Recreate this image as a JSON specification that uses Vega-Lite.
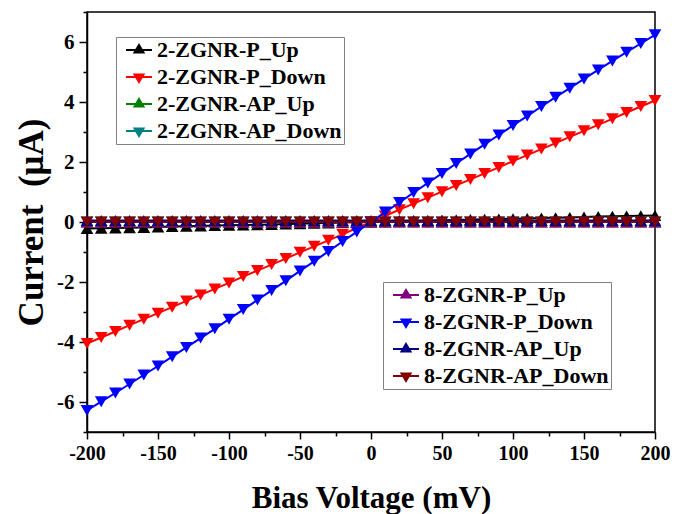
{
  "$schema": "https://vega.github.io/schema/vega-lite/v6.json",
  "width": 568,
  "height": 420,
  "autosize": "none",
  "padding": {"left": 87, "top": 12, "right": 19, "bottom": 82},
  "background": "white",
  "config": {"view": {"stroke": "black", "strokeWidth": 1.5}, "font": "Liberation Serif"},
  "data": {"values": [
    {"v": -200, "2-ZGNR-P_Up": -0.22, "2-ZGNR-P_Down": -4.05, "2-ZGNR-AP_Up": 0, "2-ZGNR-AP_Down": 0, "8-ZGNR-P_Up": 0, "8-ZGNR-P_Down": -6.28, "8-ZGNR-AP_Up": 0.05, "8-ZGNR-AP_Down": 0},
    {"v": -190, "2-ZGNR-P_Up": -0.21, "2-ZGNR-P_Down": -3.85, "2-ZGNR-AP_Up": 0, "2-ZGNR-AP_Down": 0, "8-ZGNR-P_Up": 0, "8-ZGNR-P_Down": -5.99, "8-ZGNR-AP_Up": 0.05, "8-ZGNR-AP_Down": 0},
    {"v": -180, "2-ZGNR-P_Up": -0.20, "2-ZGNR-P_Down": -3.65, "2-ZGNR-AP_Up": 0, "2-ZGNR-AP_Down": 0, "8-ZGNR-P_Up": 0, "8-ZGNR-P_Down": -5.70, "8-ZGNR-AP_Up": 0.05, "8-ZGNR-AP_Down": 0},
    {"v": -170, "2-ZGNR-P_Up": -0.19, "2-ZGNR-P_Down": -3.44, "2-ZGNR-AP_Up": 0, "2-ZGNR-AP_Down": 0, "8-ZGNR-P_Up": 0, "8-ZGNR-P_Down": -5.40, "8-ZGNR-AP_Up": 0.05, "8-ZGNR-AP_Down": 0},
    {"v": -160, "2-ZGNR-P_Up": -0.18, "2-ZGNR-P_Down": -3.24, "2-ZGNR-AP_Up": 0, "2-ZGNR-AP_Down": 0, "8-ZGNR-P_Up": 0, "8-ZGNR-P_Down": -5.10, "8-ZGNR-AP_Up": 0.05, "8-ZGNR-AP_Down": 0},
    {"v": -150, "2-ZGNR-P_Up": -0.17, "2-ZGNR-P_Down": -3.04, "2-ZGNR-AP_Up": 0, "2-ZGNR-AP_Down": 0, "8-ZGNR-P_Up": 0, "8-ZGNR-P_Down": -4.80, "8-ZGNR-AP_Up": 0.05, "8-ZGNR-AP_Down": 0},
    {"v": -140, "2-ZGNR-P_Up": -0.15, "2-ZGNR-P_Down": -2.84, "2-ZGNR-AP_Up": 0, "2-ZGNR-AP_Down": 0, "8-ZGNR-P_Up": 0, "8-ZGNR-P_Down": -4.49, "8-ZGNR-AP_Up": 0.05, "8-ZGNR-AP_Down": 0},
    {"v": -130, "2-ZGNR-P_Up": -0.14, "2-ZGNR-P_Down": -2.63, "2-ZGNR-AP_Up": 0, "2-ZGNR-AP_Down": 0, "8-ZGNR-P_Up": 0, "8-ZGNR-P_Down": -4.18, "8-ZGNR-AP_Up": 0.05, "8-ZGNR-AP_Down": 0},
    {"v": -120, "2-ZGNR-P_Up": -0.13, "2-ZGNR-P_Down": -2.43, "2-ZGNR-AP_Up": 0, "2-ZGNR-AP_Down": 0, "8-ZGNR-P_Up": 0, "8-ZGNR-P_Down": -3.87, "8-ZGNR-AP_Up": 0.05, "8-ZGNR-AP_Down": 0},
    {"v": -110, "2-ZGNR-P_Up": -0.12, "2-ZGNR-P_Down": -2.23, "2-ZGNR-AP_Up": 0, "2-ZGNR-AP_Down": 0, "8-ZGNR-P_Up": 0, "8-ZGNR-P_Down": -3.56, "8-ZGNR-AP_Up": 0.05, "8-ZGNR-AP_Down": 0},
    {"v": -100, "2-ZGNR-P_Up": -0.11, "2-ZGNR-P_Down": -2.03, "2-ZGNR-AP_Up": 0, "2-ZGNR-AP_Down": 0, "8-ZGNR-P_Up": 0, "8-ZGNR-P_Down": -3.24, "8-ZGNR-AP_Up": 0.05, "8-ZGNR-AP_Down": 0},
    {"v": -90, "2-ZGNR-P_Up": -0.10, "2-ZGNR-P_Down": -1.82, "2-ZGNR-AP_Up": 0, "2-ZGNR-AP_Down": 0, "8-ZGNR-P_Up": 0, "8-ZGNR-P_Down": -2.92, "8-ZGNR-AP_Up": 0.05, "8-ZGNR-AP_Down": 0},
    {"v": -80, "2-ZGNR-P_Up": -0.09, "2-ZGNR-P_Down": -1.62, "2-ZGNR-AP_Up": 0, "2-ZGNR-AP_Down": 0, "8-ZGNR-P_Up": 0, "8-ZGNR-P_Down": -2.60, "8-ZGNR-AP_Up": 0.05, "8-ZGNR-AP_Down": 0},
    {"v": -70, "2-ZGNR-P_Up": -0.08, "2-ZGNR-P_Down": -1.42, "2-ZGNR-AP_Up": 0, "2-ZGNR-AP_Down": 0, "8-ZGNR-P_Up": 0, "8-ZGNR-P_Down": -2.28, "8-ZGNR-AP_Up": 0.05, "8-ZGNR-AP_Down": 0},
    {"v": -60, "2-ZGNR-P_Up": -0.07, "2-ZGNR-P_Down": -1.22, "2-ZGNR-AP_Up": 0, "2-ZGNR-AP_Down": 0, "8-ZGNR-P_Up": 0, "8-ZGNR-P_Down": -1.96, "8-ZGNR-AP_Up": 0.05, "8-ZGNR-AP_Down": 0},
    {"v": -50, "2-ZGNR-P_Up": -0.06, "2-ZGNR-P_Down": -1.01, "2-ZGNR-AP_Up": 0, "2-ZGNR-AP_Down": 0, "8-ZGNR-P_Up": 0, "8-ZGNR-P_Down": -1.63, "8-ZGNR-AP_Up": 0.05, "8-ZGNR-AP_Down": 0},
    {"v": -40, "2-ZGNR-P_Up": -0.04, "2-ZGNR-P_Down": -0.81, "2-ZGNR-AP_Up": 0, "2-ZGNR-AP_Down": 0, "8-ZGNR-P_Up": 0, "8-ZGNR-P_Down": -1.31, "8-ZGNR-AP_Up": 0.05, "8-ZGNR-AP_Down": 0},
    {"v": -30, "2-ZGNR-P_Up": -0.03, "2-ZGNR-P_Down": -0.61, "2-ZGNR-AP_Up": 0, "2-ZGNR-AP_Down": 0, "8-ZGNR-P_Up": 0, "8-ZGNR-P_Down": -0.98, "8-ZGNR-AP_Up": 0.05, "8-ZGNR-AP_Down": 0},
    {"v": -20, "2-ZGNR-P_Up": -0.02, "2-ZGNR-P_Down": -0.41, "2-ZGNR-AP_Up": 0, "2-ZGNR-AP_Down": 0, "8-ZGNR-P_Up": 0, "8-ZGNR-P_Down": -0.65, "8-ZGNR-AP_Up": 0.05, "8-ZGNR-AP_Down": 0},
    {"v": -10, "2-ZGNR-P_Up": -0.01, "2-ZGNR-P_Down": -0.20, "2-ZGNR-AP_Up": 0, "2-ZGNR-AP_Down": 0, "8-ZGNR-P_Up": 0, "8-ZGNR-P_Down": -0.33, "8-ZGNR-AP_Up": 0.05, "8-ZGNR-AP_Down": 0},
    {"v": 0, "2-ZGNR-P_Up": 0, "2-ZGNR-P_Down": 0, "2-ZGNR-AP_Up": 0, "2-ZGNR-AP_Down": 0, "8-ZGNR-P_Up": 0, "8-ZGNR-P_Down": 0, "8-ZGNR-AP_Up": 0.05, "8-ZGNR-AP_Down": 0},
    {"v": 10, "2-ZGNR-P_Up": 0.01, "2-ZGNR-P_Down": 0.20, "2-ZGNR-AP_Up": 0, "2-ZGNR-AP_Down": 0, "8-ZGNR-P_Up": 0, "8-ZGNR-P_Down": 0.33, "8-ZGNR-AP_Up": 0.05, "8-ZGNR-AP_Down": 0},
    {"v": 20, "2-ZGNR-P_Up": 0.02, "2-ZGNR-P_Down": 0.41, "2-ZGNR-AP_Up": 0, "2-ZGNR-AP_Down": 0, "8-ZGNR-P_Up": 0, "8-ZGNR-P_Down": 0.65, "8-ZGNR-AP_Up": 0.05, "8-ZGNR-AP_Down": 0},
    {"v": 30, "2-ZGNR-P_Up": 0.03, "2-ZGNR-P_Down": 0.61, "2-ZGNR-AP_Up": 0, "2-ZGNR-AP_Down": 0, "8-ZGNR-P_Up": 0, "8-ZGNR-P_Down": 0.98, "8-ZGNR-AP_Up": 0.05, "8-ZGNR-AP_Down": 0},
    {"v": 40, "2-ZGNR-P_Up": 0.04, "2-ZGNR-P_Down": 0.81, "2-ZGNR-AP_Up": 0, "2-ZGNR-AP_Down": 0, "8-ZGNR-P_Up": 0, "8-ZGNR-P_Down": 1.30, "8-ZGNR-AP_Up": 0.05, "8-ZGNR-AP_Down": 0},
    {"v": 50, "2-ZGNR-P_Up": 0.06, "2-ZGNR-P_Down": 1.01, "2-ZGNR-AP_Up": 0, "2-ZGNR-AP_Down": 0, "8-ZGNR-P_Up": 0, "8-ZGNR-P_Down": 1.62, "8-ZGNR-AP_Up": 0.05, "8-ZGNR-AP_Down": 0},
    {"v": 60, "2-ZGNR-P_Up": 0.07, "2-ZGNR-P_Down": 1.22, "2-ZGNR-AP_Up": 0, "2-ZGNR-AP_Down": 0, "8-ZGNR-P_Up": 0, "8-ZGNR-P_Down": 1.95, "8-ZGNR-AP_Up": 0.05, "8-ZGNR-AP_Down": 0},
    {"v": 70, "2-ZGNR-P_Up": 0.08, "2-ZGNR-P_Down": 1.42, "2-ZGNR-AP_Up": 0, "2-ZGNR-AP_Down": 0, "8-ZGNR-P_Up": 0, "8-ZGNR-P_Down": 2.27, "8-ZGNR-AP_Up": 0.05, "8-ZGNR-AP_Down": 0},
    {"v": 80, "2-ZGNR-P_Up": 0.09, "2-ZGNR-P_Down": 1.62, "2-ZGNR-AP_Up": 0, "2-ZGNR-AP_Down": 0, "8-ZGNR-P_Up": 0, "8-ZGNR-P_Down": 2.59, "8-ZGNR-AP_Up": 0.05, "8-ZGNR-AP_Down": 0},
    {"v": 90, "2-ZGNR-P_Up": 0.10, "2-ZGNR-P_Down": 1.82, "2-ZGNR-AP_Up": 0, "2-ZGNR-AP_Down": 0, "8-ZGNR-P_Up": 0, "8-ZGNR-P_Down": 2.90, "8-ZGNR-AP_Up": 0.05, "8-ZGNR-AP_Down": 0},
    {"v": 100, "2-ZGNR-P_Up": 0.11, "2-ZGNR-P_Down": 2.03, "2-ZGNR-AP_Up": 0, "2-ZGNR-AP_Down": 0, "8-ZGNR-P_Up": 0, "8-ZGNR-P_Down": 3.22, "8-ZGNR-AP_Up": 0.05, "8-ZGNR-AP_Down": 0},
    {"v": 110, "2-ZGNR-P_Up": 0.12, "2-ZGNR-P_Down": 2.23, "2-ZGNR-AP_Up": 0, "2-ZGNR-AP_Down": 0, "8-ZGNR-P_Up": 0, "8-ZGNR-P_Down": 3.53, "8-ZGNR-AP_Up": 0.05, "8-ZGNR-AP_Down": 0},
    {"v": 120, "2-ZGNR-P_Up": 0.13, "2-ZGNR-P_Down": 2.43, "2-ZGNR-AP_Up": 0, "2-ZGNR-AP_Down": 0, "8-ZGNR-P_Up": 0, "8-ZGNR-P_Down": 3.85, "8-ZGNR-AP_Up": 0.05, "8-ZGNR-AP_Down": 0},
    {"v": 130, "2-ZGNR-P_Up": 0.14, "2-ZGNR-P_Down": 2.63, "2-ZGNR-AP_Up": 0, "2-ZGNR-AP_Down": 0, "8-ZGNR-P_Up": 0, "8-ZGNR-P_Down": 4.16, "8-ZGNR-AP_Up": 0.05, "8-ZGNR-AP_Down": 0},
    {"v": 140, "2-ZGNR-P_Up": 0.15, "2-ZGNR-P_Down": 2.84, "2-ZGNR-AP_Up": 0, "2-ZGNR-AP_Down": 0, "8-ZGNR-P_Up": 0, "8-ZGNR-P_Down": 4.46, "8-ZGNR-AP_Up": 0.05, "8-ZGNR-AP_Down": 0},
    {"v": 150, "2-ZGNR-P_Up": 0.17, "2-ZGNR-P_Down": 3.04, "2-ZGNR-AP_Up": 0, "2-ZGNR-AP_Down": 0, "8-ZGNR-P_Up": 0, "8-ZGNR-P_Down": 4.77, "8-ZGNR-AP_Up": 0.05, "8-ZGNR-AP_Down": 0},
    {"v": 160, "2-ZGNR-P_Up": 0.18, "2-ZGNR-P_Down": 3.24, "2-ZGNR-AP_Up": 0, "2-ZGNR-AP_Down": 0, "8-ZGNR-P_Up": 0, "8-ZGNR-P_Down": 5.07, "8-ZGNR-AP_Up": 0.05, "8-ZGNR-AP_Down": 0},
    {"v": 170, "2-ZGNR-P_Up": 0.19, "2-ZGNR-P_Down": 3.44, "2-ZGNR-AP_Up": 0, "2-ZGNR-AP_Down": 0, "8-ZGNR-P_Up": 0, "8-ZGNR-P_Down": 5.37, "8-ZGNR-AP_Up": 0.05, "8-ZGNR-AP_Down": 0},
    {"v": 180, "2-ZGNR-P_Up": 0.20, "2-ZGNR-P_Down": 3.65, "2-ZGNR-AP_Up": 0, "2-ZGNR-AP_Down": 0, "8-ZGNR-P_Up": 0, "8-ZGNR-P_Down": 5.66, "8-ZGNR-AP_Up": 0.05, "8-ZGNR-AP_Down": 0},
    {"v": 190, "2-ZGNR-P_Up": 0.21, "2-ZGNR-P_Down": 3.85, "2-ZGNR-AP_Up": 0, "2-ZGNR-AP_Down": 0, "8-ZGNR-P_Up": 0, "8-ZGNR-P_Down": 5.95, "8-ZGNR-AP_Up": 0.05, "8-ZGNR-AP_Down": 0},
    {"v": 200, "2-ZGNR-P_Up": 0.22, "2-ZGNR-P_Down": 4.05, "2-ZGNR-AP_Up": 0, "2-ZGNR-AP_Down": 0, "8-ZGNR-P_Up": 0, "8-ZGNR-P_Down": 6.24, "8-ZGNR-AP_Up": 0.05, "8-ZGNR-AP_Down": 0}
  ]},
  "transform": [
    {"fold": ["2-ZGNR-P_Up", "2-ZGNR-P_Down", "2-ZGNR-AP_Up", "2-ZGNR-AP_Down", "8-ZGNR-P_Up", "8-ZGNR-P_Down", "8-ZGNR-AP_Up", "8-ZGNR-AP_Down"], "as": ["series", "i"]}
  ],
  "layer": [
    {
      "transform": [{"filter": {"field": "series", "oneOf": ["2-ZGNR-P_Up", "2-ZGNR-P_Down", "2-ZGNR-AP_Up", "2-ZGNR-AP_Down"]}}],
      "encoding": {
        "x": {"field": "v", "type": "quantitative", "scale": {"domain": [-200, 200], "nice": false, "zero": false},
          "axis": {"orient": "bottom", "values": [-200, -150, -100, -50, 0, 50, 100, 150, 200], "grid": false, "labelExpr": "'' + datum.value",
            "labelFont": "Liberation Serif", "labelFontWeight": "bold", "labelFontSize": 20, "labelColor": "black", "labelPadding": 4, "labelFlush": false, "labelOverlap": false,
            "tickColor": "black", "tickSize": 7, "tickWidth": 1.5, "domainColor": "black", "domainWidth": 1.5,
            "title": "Bias Voltage (mV)", "titleFont": "Liberation Serif", "titleFontSize": 31, "titleFontWeight": "bold", "titleColor": "black", "titlePadding": 20}},
        "y": {"field": "i", "type": "quantitative", "scale": {"domain": [-7, 7], "nice": false, "zero": false},
          "axis": {"orient": "left", "values": [-6, -4, -2, 0, 2, 4, 6], "grid": false, "labelExpr": "'' + datum.value",
            "labelFont": "Liberation Serif", "labelFontWeight": "bold", "labelFontSize": 21, "labelColor": "black", "labelPadding": 5, "labelOverlap": false,
            "tickColor": "black", "tickSize": 8, "tickWidth": 1.5, "domainColor": "black", "domainWidth": 1.5,
            "title": "Current\u00a0 (μA)", "titleFont": "Liberation Serif", "titleFontSize": 35, "titleFontWeight": "bold", "titleColor": "black", "titlePadding": 7}}
      },
      "layer": [
        {"mark": {"type": "line", "strokeWidth": 2},
          "encoding": {"stroke": {"field": "series", "type": "nominal",
            "scale": {"domain": ["2-ZGNR-P_Up", "2-ZGNR-P_Down", "2-ZGNR-AP_Up", "2-ZGNR-AP_Down"], "range": ["#000000", "#ff0000", "#008000", "#008080"]}}}},
        {"transform": [{"filter": {"field": "series", "oneOf": ["2-ZGNR-P_Up", "2-ZGNR-AP_Up"]}}],
          "mark": {"type": "point", "filled": true, "size": 160, "opacity": 1, "shape": "triangle-up"},
          "encoding": {"fill": {"field": "series", "type": "nominal",
            "scale": {"domain": ["2-ZGNR-P_Up", "2-ZGNR-P_Down", "2-ZGNR-AP_Up", "2-ZGNR-AP_Down"], "range": ["#000000", "#ff0000", "#008000", "#008080"]}}}},
        {"transform": [{"filter": {"field": "series", "oneOf": ["2-ZGNR-P_Down", "2-ZGNR-AP_Down"]}}],
          "mark": {"type": "point", "filled": true, "size": 160, "opacity": 1, "shape": "triangle-down"},
          "encoding": {"fill": {"field": "series", "type": "nominal",
            "scale": {"domain": ["2-ZGNR-P_Up", "2-ZGNR-P_Down", "2-ZGNR-AP_Up", "2-ZGNR-AP_Down"], "range": ["#000000", "#ff0000", "#008000", "#008080"]}}}},
        {"mark": {"type": "point", "filled": true, "size": 10, "opacity": 0},
          "encoding": {
            "fill": {"field": "series", "type": "nominal",
              "scale": {"domain": ["2-ZGNR-P_Up", "2-ZGNR-P_Down", "2-ZGNR-AP_Up", "2-ZGNR-AP_Down"], "range": ["#000000", "#ff0000", "#008000", "#008080"]},
              "legend": {"orient": "none", "legendX": 29, "legendY": 25, "title": null, "padding": 2, "rowPadding": 5, "strokeColor": "#808080", "fillColor": "white",
                "symbolSize": 400, "symbolOffset": 10, "labelOffset": 7, "labelLimit": 400, "symbolOpacity": 1, "symbolStrokeWidth": 2,
                "labelFont": "Liberation Serif", "labelFontWeight": "bold", "labelFontSize": 22, "labelColor": "black"}},
            "stroke": {"field": "series", "type": "nominal",
              "scale": {"domain": ["2-ZGNR-P_Up", "2-ZGNR-P_Down", "2-ZGNR-AP_Up", "2-ZGNR-AP_Down"], "range": ["#000000", "#ff0000", "#008000", "#008080"]},
              "legend": {"orient": "none", "legendX": 29, "legendY": 25, "title": null, "padding": 2, "rowPadding": 5, "strokeColor": "#808080", "fillColor": "white",
                "symbolSize": 400, "symbolOffset": 10, "labelOffset": 7, "labelLimit": 400, "symbolOpacity": 1, "symbolStrokeWidth": 2,
                "labelFont": "Liberation Serif", "labelFontWeight": "bold", "labelFontSize": 22, "labelColor": "black"}},
            "shape": {"field": "series", "type": "nominal",
              "scale": {"domain": ["2-ZGNR-P_Up", "2-ZGNR-P_Down", "2-ZGNR-AP_Up", "2-ZGNR-AP_Down"],
                "range": ["M-1.3,0H1.3M0,-0.5L0.45,0.25L-0.45,0.25Z", "M-1.3,0H1.3M0,0.5L0.45,-0.25L-0.45,-0.25Z", "M-1.3,0H1.3M0,-0.5L0.45,0.25L-0.45,0.25Z", "M-1.3,0H1.3M0,0.5L0.45,-0.25L-0.45,-0.25Z"]},
              "legend": {"orient": "none", "legendX": 29, "legendY": 25, "title": null, "padding": 2, "rowPadding": 5, "strokeColor": "#808080", "fillColor": "white",
                "symbolSize": 400, "symbolOffset": 10, "labelOffset": 7, "labelLimit": 400, "symbolOpacity": 1, "symbolStrokeWidth": 2,
                "labelFont": "Liberation Serif", "labelFontWeight": "bold", "labelFontSize": 22, "labelColor": "black"}}}}
      ]
    },
    {
      "transform": [{"filter": {"field": "series", "oneOf": ["8-ZGNR-P_Up", "8-ZGNR-P_Down", "8-ZGNR-AP_Up", "8-ZGNR-AP_Down"]}}],
      "encoding": {
        "x": {"field": "v", "type": "quantitative", "scale": {"domain": [-200, 200], "nice": false, "zero": false},
          "axis": {"orient": "bottom", "values": [-175, -125, -75, -25, 25, 75, 125, 175], "labels": false, "domain": false, "grid": false,
            "tickColor": "black", "tickSize": 4, "tickWidth": 1.5, "title": null}},
        "y": {"field": "i", "type": "quantitative", "scale": {"domain": [-7, 7], "nice": false, "zero": false},
          "axis": {"orient": "left", "values": [-7, -5, -3, -1, 1, 3, 5, 7], "labels": false, "domain": false, "grid": false,
            "tickColor": "black", "tickSize": 4, "tickWidth": 1.5, "title": null}}
      },
      "layer": [
        {"mark": {"type": "line", "strokeWidth": 2},
          "encoding": {"stroke": {"field": "series", "type": "nominal",
            "scale": {"domain": ["8-ZGNR-P_Up", "8-ZGNR-P_Down", "8-ZGNR-AP_Up", "8-ZGNR-AP_Down"], "range": ["#800080", "#0000ff", "#000080", "#800000"]}}}},
        {"transform": [{"filter": {"field": "series", "oneOf": ["8-ZGNR-P_Up", "8-ZGNR-AP_Up"]}}],
          "mark": {"type": "point", "filled": true, "size": 160, "opacity": 1, "shape": "triangle-up"},
          "encoding": {"fill": {"field": "series", "type": "nominal",
            "scale": {"domain": ["8-ZGNR-P_Up", "8-ZGNR-P_Down", "8-ZGNR-AP_Up", "8-ZGNR-AP_Down"], "range": ["#800080", "#0000ff", "#000080", "#800000"]}}}},
        {"transform": [{"filter": {"field": "series", "oneOf": ["8-ZGNR-P_Down", "8-ZGNR-AP_Down"]}}],
          "mark": {"type": "point", "filled": true, "size": 160, "opacity": 1, "shape": "triangle-down"},
          "encoding": {"fill": {"field": "series", "type": "nominal",
            "scale": {"domain": ["8-ZGNR-P_Up", "8-ZGNR-P_Down", "8-ZGNR-AP_Up", "8-ZGNR-AP_Down"], "range": ["#800080", "#0000ff", "#000080", "#800000"]}}}},
        {"mark": {"type": "point", "filled": true, "size": 10, "opacity": 0},
          "encoding": {
            "fill": {"field": "series", "type": "nominal",
              "scale": {"domain": ["8-ZGNR-P_Up", "8-ZGNR-P_Down", "8-ZGNR-AP_Up", "8-ZGNR-AP_Down"], "range": ["#800080", "#0000ff", "#000080", "#800000"]},
              "legend": {"orient": "none", "legendX": 296, "legendY": 270, "title": null, "padding": 2, "rowPadding": 5, "strokeColor": "#808080", "fillColor": "white",
                "symbolSize": 400, "symbolOffset": 10, "labelOffset": 7, "labelLimit": 400, "symbolOpacity": 1, "symbolStrokeWidth": 2,
                "labelFont": "Liberation Serif", "labelFontWeight": "bold", "labelFontSize": 22, "labelColor": "black"}},
            "stroke": {"field": "series", "type": "nominal",
              "scale": {"domain": ["8-ZGNR-P_Up", "8-ZGNR-P_Down", "8-ZGNR-AP_Up", "8-ZGNR-AP_Down"], "range": ["#800080", "#0000ff", "#000080", "#800000"]},
              "legend": {"orient": "none", "legendX": 296, "legendY": 270, "title": null, "padding": 2, "rowPadding": 5, "strokeColor": "#808080", "fillColor": "white",
                "symbolSize": 400, "symbolOffset": 10, "labelOffset": 7, "labelLimit": 400, "symbolOpacity": 1, "symbolStrokeWidth": 2,
                "labelFont": "Liberation Serif", "labelFontWeight": "bold", "labelFontSize": 22, "labelColor": "black"}},
            "shape": {"field": "series", "type": "nominal",
              "scale": {"domain": ["8-ZGNR-P_Up", "8-ZGNR-P_Down", "8-ZGNR-AP_Up", "8-ZGNR-AP_Down"],
                "range": ["M-1.3,0H1.3M0,-0.5L0.45,0.25L-0.45,0.25Z", "M-1.3,0H1.3M0,0.5L0.45,-0.25L-0.45,-0.25Z", "M-1.3,0H1.3M0,-0.5L0.45,0.25L-0.45,0.25Z", "M-1.3,0H1.3M0,0.5L0.45,-0.25L-0.45,-0.25Z"]},
              "legend": {"orient": "none", "legendX": 296, "legendY": 270, "title": null, "padding": 2, "rowPadding": 5, "strokeColor": "#808080", "fillColor": "white",
                "symbolSize": 400, "symbolOffset": 10, "labelOffset": 7, "labelLimit": 400, "symbolOpacity": 1, "symbolStrokeWidth": 2,
                "labelFont": "Liberation Serif", "labelFontWeight": "bold", "labelFontSize": 22, "labelColor": "black"}}}}
      ]
    }
  ],
  "resolve": {"scale": {"fill": "independent", "stroke": "independent", "shape": "independent"}, "axis": {"x": "independent", "y": "independent"}}
}
